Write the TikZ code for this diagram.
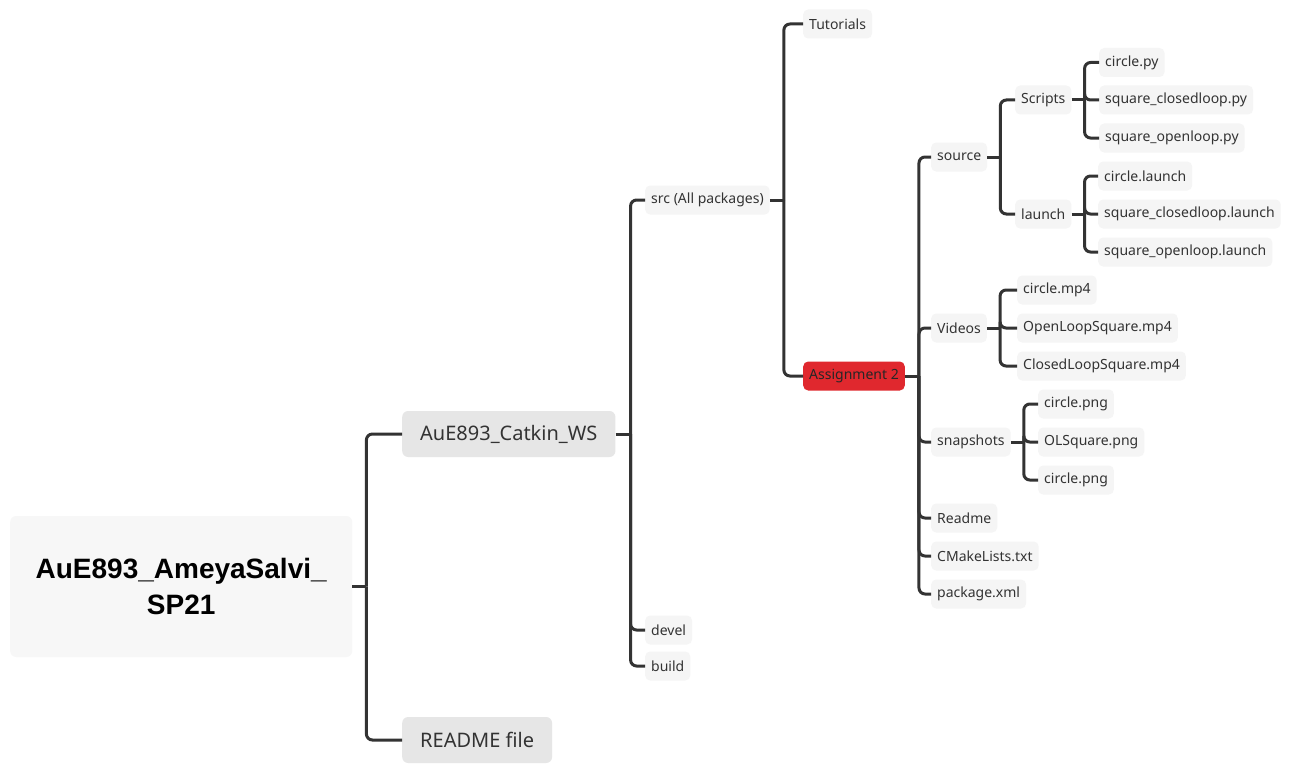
\documentclass[tikz,border=0pt]{standalone}
\usepackage{fontspec}
\setmainfont{Noto Sans}
\newfontfamily\rootfont{Liberation Sans}
\usetikzlibrary{calc}
\definecolor{lnc}{HTML}{333333}
\definecolor{txc}{HTML}{333333}
\definecolor{lfill}{HTML}{F5F5F5}
\definecolor{rfill}{HTML}{F7F7F7}
\definecolor{mfill}{HTML}{E6E6E6}
\definecolor{redf}{HTML}{E0282E}
\tikzset{
  leaf/.style={anchor=west, fill=lfill, rounded corners=5pt, inner xsep=6pt, inner ysep=0pt, minimum height=29pt, text=txc, font=\fontsize{14}{17}\selectfont},
  mid/.style={anchor=west, fill=mfill, rounded corners=6pt, inner xsep=18pt, inner ysep=0pt, minimum height=46pt, text=txc, font=\fontsize{20}{24}\selectfont},
  redbox/.style={leaf, fill=redf, text=black!85},
  conn/.style={draw=lnc, line width=3pt, rounded corners=6pt},
  stub/.style={draw=lnc, line width=3pt},
}
\newcommand{\branch}[3]{% parent, trunk offset, list of children
  \draw[stub] (#1.east) -- ++(#2,0);
  \foreach \c in {#3} {\draw[conn] ($(#1.east)+(#2,0)$) |- (\c.west);}
}
\begin{document}
\begin{tikzpicture}[x=1pt,y=-1pt]
\useasboundingbox[fill=white] (0,0) rectangle (1292,773);
% root
\node[anchor=west, fill=rfill, rounded corners=6pt, minimum width=342pt, minimum height=141pt, inner sep=0pt, align=center, font=\rootfont\bfseries\fontsize{28}{36}\selectfont] (root) at (10,586.5) {AuE893\_AmeyaSalvi\_\\SP21};
% level 1
\node[mid] (ws) at (402,434) {AuE893\_Catkin\_WS};
\node[mid] (readme) at (402,740) {README file};
% level 2
\node[leaf] (src) at (645,200) {src (All packages)};
\node[leaf] (devel) at (645,630) {devel};
\node[leaf] (build) at (645,666) {build};
% level 3
\node[leaf] (tut) at (803,24) {Tutorials};
\node[redbox] (a2) at (803,376) {Assignment 2};
% level 4
\node[leaf] (source) at (931,157) {source};
\node[leaf] (videos) at (931,328) {Videos};
\node[leaf] (snap) at (931,442) {snapshots};
\node[leaf] (rdm) at (931,518) {Readme};
\node[leaf] (cmake) at (931,556) {CMakeLists.txt};
\node[leaf] (pkg) at (931,594) {package.xml};
% level 5
\node[leaf] (scripts) at (1015,100) {Scripts};
\node[leaf] (launch) at (1015,214) {launch};
\node[leaf] (cpy) at (1099,62.5) {circle.py};
\node[leaf] (scpy) at (1099,100) {square\_closedloop.py};
\node[leaf] (sopy) at (1099,138) {square\_openloop.py};
\node[leaf] (cl) at (1098,176) {circle.launch};
\node[leaf] (scl) at (1098,214) {square\_closedloop.launch};
\node[leaf] (sol) at (1098,252) {square\_openloop.launch};
\node[leaf] (cmp) at (1017,290) {circle.mp4};
\node[leaf] (olmp) at (1017,328) {OpenLoopSquare.mp4};
\node[leaf] (clmp) at (1017,366) {ClosedLoopSquare.mp4};
\node[leaf] (cp1) at (1038,404) {circle.png};
\node[leaf] (olp) at (1038,442) {OLSquare.png};
\node[leaf] (cp2) at (1038,480) {circle.png};
% connectors
\branch{root}{14}{ws,readme}
\branch{ws}{15}{src,devel,build}
\branch{src}{14}{tut,a2}
\branch{a2}{14}{source,videos,snap,rdm,cmake,pkg}
\branch{source}{13}{scripts,launch}
\branch{scripts}{13}{cpy,scpy,sopy}
\branch{launch}{13}{cl,scl,sol}
\branch{videos}{13}{cmp,olmp,clmp}
\branch{snap}{13}{cp1,olp,cp2}
\end{tikzpicture}
\end{document}
